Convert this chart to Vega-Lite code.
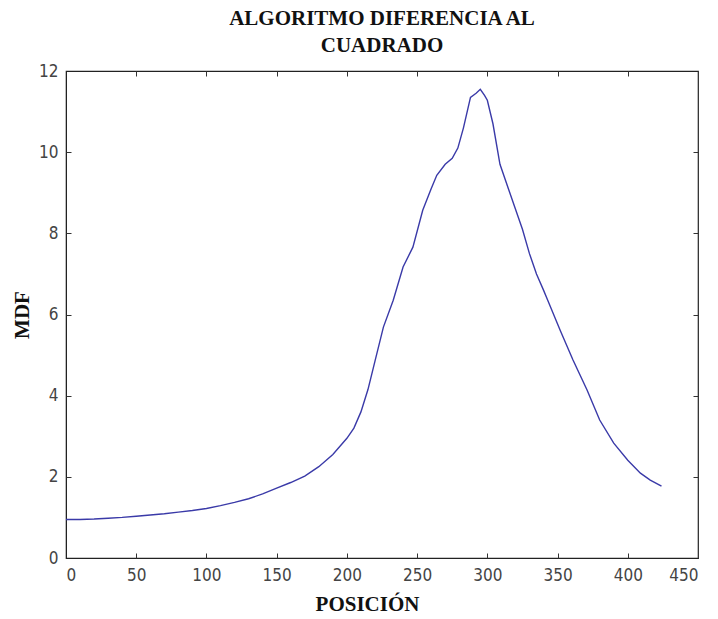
{
  "$schema": "https://vega.github.io/schema/vega-lite/v6.json",
  "width": 632,
  "height": 487,
  "autosize": "none",
  "padding": {"left": 66, "top": 71, "right": 20, "bottom": 61},
  "background": "white",
  "config": {
    "view": {"stroke": "#222", "strokeWidth": 1.2},
    "axis": {
      "domainColor": "#222",
      "tickColor": "#333",
      "grid": false,
      "labelFont": "DejaVu Sans Condensed, Liberation Sans",
      "labelFontSize": 17,
      "labelColor": "#444",
      "titleFont": "Liberation Serif",
      "titleFontWeight": "bold",
      "titleFontSize": 21,
      "titleColor": "#111"
    }
  },
  "title": {
    "text": ["ALGORITMO DIFERENCIA AL", "CUADRADO"],
    "font": "Liberation Serif",
    "fontWeight": "bold",
    "fontSize": 21,
    "color": "#111",
    "anchor": "middle",
    "offset": 6,
    "lineHeight": 27
  },
  "data": {
    "values": [
      {"pos": 0, "mdf": 0.95}, {"pos": 10, "mdf": 0.95}, {"pos": 20, "mdf": 0.96},
      {"pos": 30, "mdf": 0.98}, {"pos": 40, "mdf": 1.0}, {"pos": 50, "mdf": 1.03},
      {"pos": 60, "mdf": 1.06}, {"pos": 70, "mdf": 1.09}, {"pos": 80, "mdf": 1.13},
      {"pos": 90, "mdf": 1.17}, {"pos": 100, "mdf": 1.22}, {"pos": 110, "mdf": 1.29},
      {"pos": 120, "mdf": 1.37}, {"pos": 130, "mdf": 1.46}, {"pos": 140, "mdf": 1.58},
      {"pos": 150, "mdf": 1.72}, {"pos": 160, "mdf": 1.86}, {"pos": 170, "mdf": 2.02},
      {"pos": 180, "mdf": 2.25}, {"pos": 190, "mdf": 2.55}, {"pos": 200, "mdf": 2.95},
      {"pos": 205, "mdf": 3.2}, {"pos": 210, "mdf": 3.6}, {"pos": 215, "mdf": 4.15},
      {"pos": 220, "mdf": 4.85}, {"pos": 226, "mdf": 5.69}, {"pos": 233, "mdf": 6.35},
      {"pos": 240, "mdf": 7.17}, {"pos": 247, "mdf": 7.66}, {"pos": 254, "mdf": 8.57},
      {"pos": 260, "mdf": 9.1}, {"pos": 264, "mdf": 9.43}, {"pos": 270, "mdf": 9.7},
      {"pos": 275, "mdf": 9.85}, {"pos": 279, "mdf": 10.1}, {"pos": 283, "mdf": 10.6},
      {"pos": 288, "mdf": 11.35}, {"pos": 292, "mdf": 11.45}, {"pos": 295, "mdf": 11.55},
      {"pos": 298, "mdf": 11.4}, {"pos": 300, "mdf": 11.28}, {"pos": 304, "mdf": 10.7},
      {"pos": 309, "mdf": 9.7}, {"pos": 315, "mdf": 9.1}, {"pos": 320, "mdf": 8.6},
      {"pos": 325, "mdf": 8.1}, {"pos": 330, "mdf": 7.5}, {"pos": 335, "mdf": 7.0},
      {"pos": 340, "mdf": 6.6}, {"pos": 343, "mdf": 6.35}, {"pos": 352, "mdf": 5.6},
      {"pos": 361, "mdf": 4.88}, {"pos": 371, "mdf": 4.14}, {"pos": 380, "mdf": 3.4},
      {"pos": 390, "mdf": 2.83}, {"pos": 400, "mdf": 2.41}, {"pos": 409, "mdf": 2.09},
      {"pos": 416, "mdf": 1.92}, {"pos": 424, "mdf": 1.77}
    ]
  },
  "layer": [
    {
      "mark": {"type": "line", "color": "#3a3aa8", "strokeWidth": 1.4},
      "encoding": {
        "x": {"field": "pos", "type": "quantitative",
              "scale": {"domain": [0, 450], "nice": false},
              "axis": {"orient": "bottom", "values": [0,50,100,150,200,250,300,350,400,450], "title": "POSICIÓN", "titlePadding": 10, "titleX": 301, "labelPadding": 9, "ticks": false}},
        "y": {"field": "mdf", "type": "quantitative",
              "scale": {"domain": [0, 12], "nice": false},
              "axis": {"orient": "left", "values": [0,2,4,6,8,10,12], "title": "MDF", "titlePadding": 6, "labelPadding": 8, "ticks": false}}
      }
    },
    {
      "mark": {"type": "line", "opacity": 0},
      "encoding": {
        "x": {"field": "pos", "type": "quantitative",
              "scale": {"domain": [0, 450], "nice": false},
              "axis": {"orient": "top", "offset": -487, "values": [50,100,150,200,250,300,350,400], "labels": false, "title": null, "domain": false, "tickSize": 5}},
        "y": {"field": "mdf", "type": "quantitative",
              "scale": {"domain": [0, 12], "nice": false},
              "axis": {"orient": "right", "offset": -632, "values": [2,4,6,8,10], "labels": false, "title": null, "domain": false, "tickSize": 5}}
      }
    },
    {
      "mark": {"type": "line", "opacity": 0},
      "encoding": {
        "x": {"field": "pos", "type": "quantitative",
              "scale": {"domain": [0, 450], "nice": false},
              "axis": {"orient": "bottom", "offset": -487, "values": [50,100,150,200,250,300,350,400], "labels": false, "title": null, "domain": false, "tickSize": 5}},
        "y": {"field": "mdf", "type": "quantitative",
              "scale": {"domain": [0, 12], "nice": false},
              "axis": {"orient": "left", "offset": -632, "values": [2,4,6,8,10], "labels": false, "title": null, "domain": false, "tickSize": 5}}
      }
    }
  ],
  "resolve": {"axis": {"x": "independent", "y": "independent"}}
}
